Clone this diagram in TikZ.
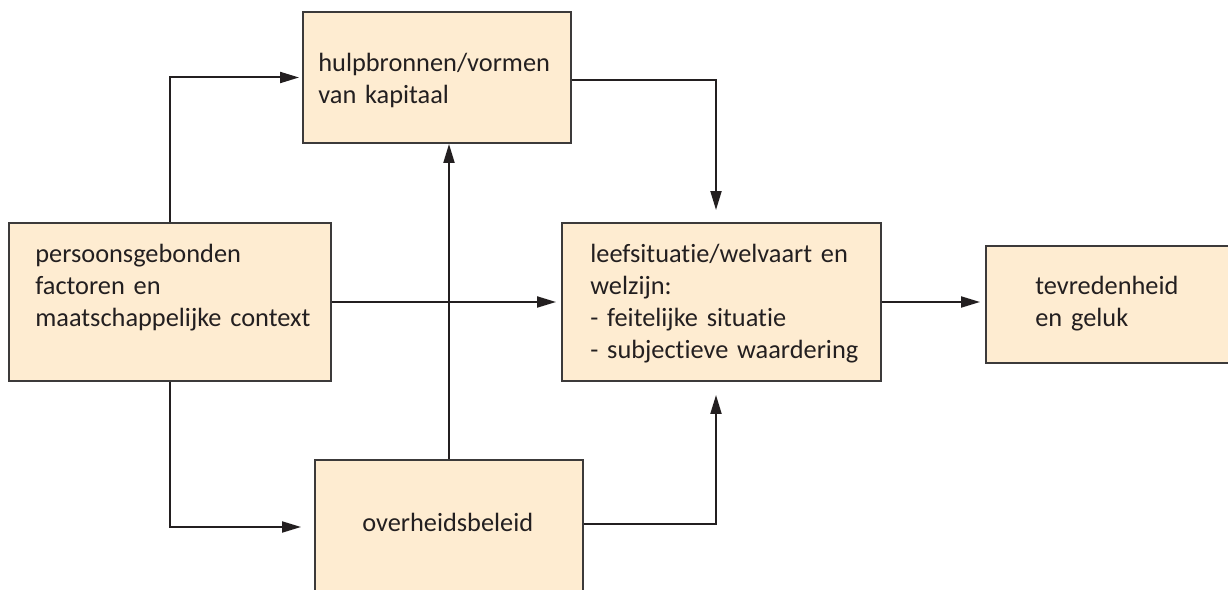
\documentclass[tikz,border=0pt]{standalone}
\usepackage{fontspec}
\setmainfont{Carlito}[Ligatures=NoCommon]
\usetikzlibrary{arrows.meta, positioning, calc}
\definecolor{boxfill}{RGB}{254,236,209}
\definecolor{boxline}{RGB}{60,58,58}
\definecolor{inkdark}{RGB}{35,31,32}

\begin{document}
\begin{tikzpicture}[
  x=0.02cm, y=-0.02cm,
  box/.style={draw=boxline, fill=boxfill, line width=0.04cm, inner sep=0pt},
  txt/.style={anchor=base west, align=left, inner sep=0pt, text=inkdark,
              text width=6cm, font=\fontsize{15}{18.1}\selectfont},
  arr/.style={-{Triangle[length=0.38cm, width=0.22cm]}, line width=0.04cm, draw=inkdark},
]

\clip (0,0) rectangle (1228,590);
\fill[white] (0,0) rectangle (1228,590);

% boxes
\node[box, minimum width=5.36cm, minimum height=2.62cm] (hulp) at (437,77.5) {};
\node[box, minimum width=6.44cm, minimum height=3.16cm] (pers) at (170,302) {};
\node[box, minimum width=6.38cm, minimum height=3.16cm] (leef) at (721.5,302) {};
\node[box, minimum width=5.2cm, minimum height=2.34cm]  (tev)  at (1116,304.5) {};
\node[box, minimum width=5.36cm, minimum height=2.68cm] (over) at (449,527) {};

% texts
\node[txt] (hulp-t) at (318,72)  {hulpbronnen/vormen\\van kapitaal};
\node[txt] (pers-t) at (35,263)  {persoonsgebonden\\factoren en\\maatschappelijke context};
\node[txt] (leef-t) at (590,263) {leefsituatie/welvaart en\\welzijn:\\- feitelijke situatie\\- subjectieve waardering};
\node[txt] (tev-t)  at (1035,295) {tevredenheid\\en geluk};
\node[txt] (over-t) at (362,532) {overheidsbeleid};

% connectors
\draw[arr, shorten >=0.06cm] (pers.north) |- (hulp.west);
\draw[arr, shorten >=0.24cm] ($(hulp.east)+(0,2.5)$) -| ($(leef.north)+(-5.5,0)$);
\draw[arr, shorten >=0.1cm] (pers.east) -- (leef.west);
\draw[arr] (over.north) -- (over.north |- hulp.south);
\draw[arr, shorten >=0.26cm] (pers.south) |- (over.west);
\draw[arr, shorten >=0.26cm] ($(over.east)+(0,-3)$) -| ($(leef.south)+(-5.5,0)$);
\draw[arr, shorten >=0.1cm] (leef.east) -- (leef.east -| tev.west);

\end{tikzpicture}
\end{document}
